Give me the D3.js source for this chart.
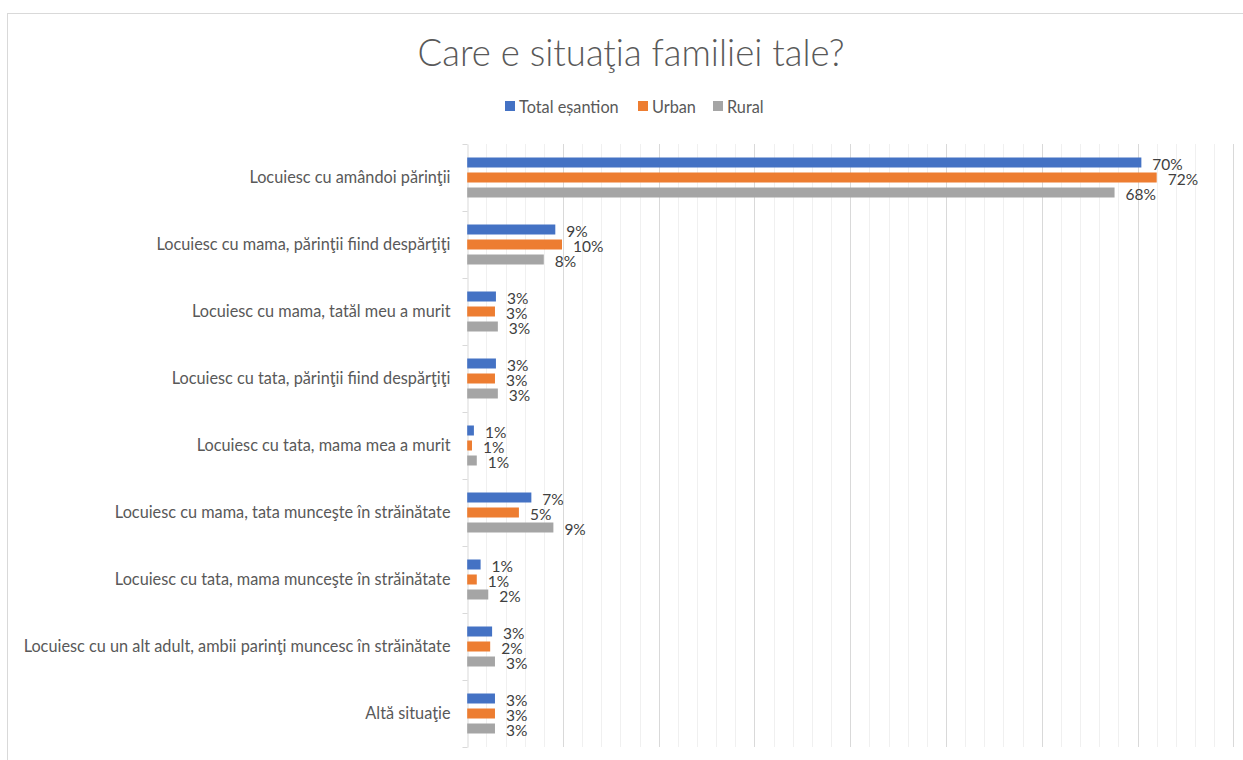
<!DOCTYPE html>
<html><head><meta charset="utf-8">
<script src="https://cdn.jsdelivr.net/npm/d3@7"></script>
<style>html,body{margin:0;padding:0;background:#fff;}svg{display:block;font-family:Lato,"Open Sans",sans-serif;}</style>
</head><body>
<svg id="chart" width="1243" height="760"></svg>
<script>
const title = "Care e situaţia familiei tale?";
const categories = [
  "Locuiesc cu amândoi părinţii",
  "Locuiesc cu mama, părinţii fiind despărţiţi",
  "Locuiesc cu mama, tatăl meu a murit",
  "Locuiesc cu tata, părinţii fiind despărţiţi",
  "Locuiesc cu tata, mama mea a murit",
  "Locuiesc cu mama, tata munceşte în străinătate",
  "Locuiesc cu tata, mama munceşte în străinătate",
  "Locuiesc cu un alt adult, ambii parinţi muncesc în străinătate",
  "Altă situaţie"
];
const seriesNames = ["Total eșantion", "Urban", "Rural"];
const seriesColors = ["#4472C4", "#ED7D31", "#A5A5A5"];
const totalValues = [70.4, 9.2, 3.0, 3.0, 0.7, 6.7, 1.4, 2.6, 2.9];
const urbanValues = [72.0, 9.9, 2.9, 2.9, 0.5, 5.4, 1.0, 2.4, 2.9];
const ruralValues = [67.6, 8.0, 3.2, 3.2, 1.0, 9.0, 2.2, 2.9, 2.9];
const labelTotal = ["70%","9%","3%","3%","1%","7%","1%","3%","3%"];
const labelUrban = ["72%","10%","3%","3%","1%","5%","1%","2%","3%"];
const labelRural = ["68%","8%","3%","3%","1%","9%","2%","3%","3%"];
const xMax = 80;

const seriesValues = [totalValues, urbanValues, ruralValues];
const seriesLabels = [labelTotal, labelUrban, labelRural];

const svg = d3.select("#chart");
// frame
svg.append("rect").attr("x", 7.5).attr("y", 13.5).attr("width", 1300).attr("height", 800)
  .attr("fill", "#fff").attr("stroke", "#d9d9d9").attr("stroke-width", 1);

const x = d3.scaleLinear().domain([0, xMax]).range([467.2, 1233.3]);
const y = d3.scaleBand().domain(categories).range([144, 747]).padding(0);
const inner = d3.scaleBand().domain(seriesNames).range([13.5, 53.5]).paddingInner(1/3).paddingOuter(0);

// gridlines
const minorTicks = d3.range(2, xMax + 0.01, 2);
svg.append("g").selectAll("line").data(minorTicks).join("line")
  .attr("x1", d => Math.round(x(d)) + 0.5).attr("x2", d => Math.round(x(d)) + 0.5)
  .attr("y1", 144).attr("y2", 747)
  .attr("stroke", d => d % 10 === 0 ? "#d9d9d9" : "#f0f0f0").attr("stroke-width", 1);

// category axis
const yAxis = d3.axisLeft(y).tickSize(0).tickPadding(17);
const gy = svg.append("g").attr("transform", `translate(${Math.round(x(0)) + 0.5},0)`).call(yAxis);
gy.select(".domain").attr("stroke", "#d9d9d9");
gy.selectAll("text").attr("fill", "#595959").attr("font-size", "16.3px").attr("font-family", "Lato");
// boundary ticks
const bounds = categories.map(c => y(c)).concat([y.range()[1]]);
gy.append("g").selectAll("line").data(bounds).join("line")
  .attr("x1", -5).attr("x2", 0).attr("y1", d => Math.round(d) + 0.5).attr("y2", d => Math.round(d) + 0.5)
  .attr("stroke", "#d9d9d9");

// bars
seriesNames.forEach((s, si) => {
  const g = svg.append("g");
  g.selectAll("rect").data(categories).join("rect")
    .attr("x", x(0))
    .attr("y", (c) => y(c) + inner(s))
    .attr("width", (c, i) => x(seriesValues[si][i]) - x(0))
    .attr("height", inner.bandwidth())
    .attr("fill", seriesColors[si]);
  g.selectAll("text").data(categories).join("text")
    .attr("x", (c, i) => x(seriesValues[si][i]) + 11)
    .attr("y", (c) => y(c) + inner(s) + inner.bandwidth() / 2 + 1.5)
    .attr("dominant-baseline", "central")
    .attr("fill", "#404040").attr("font-size", "15.5px")
    .text((c, i) => seriesLabels[si][i]);
});

// title
svg.append("text").attr("x", 631).attr("y", 66).attr("text-anchor", "middle")
  .attr("fill", "#595959").attr("font-size", "36.5px").attr("font-weight", 300).text(title);

// legend
const legendItems = [
  {name: seriesNames[0], x: 505},
  {name: seriesNames[1], x: 638},
  {name: seriesNames[2], x: 713}
];
const lg = svg.append("g");
legendItems.forEach((it, i) => {
  lg.append("rect").attr("x", it.x).attr("y", 101).attr("width", 10).attr("height", 10).attr("fill", seriesColors[i]);
  lg.append("text").attr("x", it.x + 14).attr("y", 106).attr("dominant-baseline", "central")
    .attr("fill", "#595959").attr("font-size", "16.3px").text(it.name);
});
</script>
</body></html>
